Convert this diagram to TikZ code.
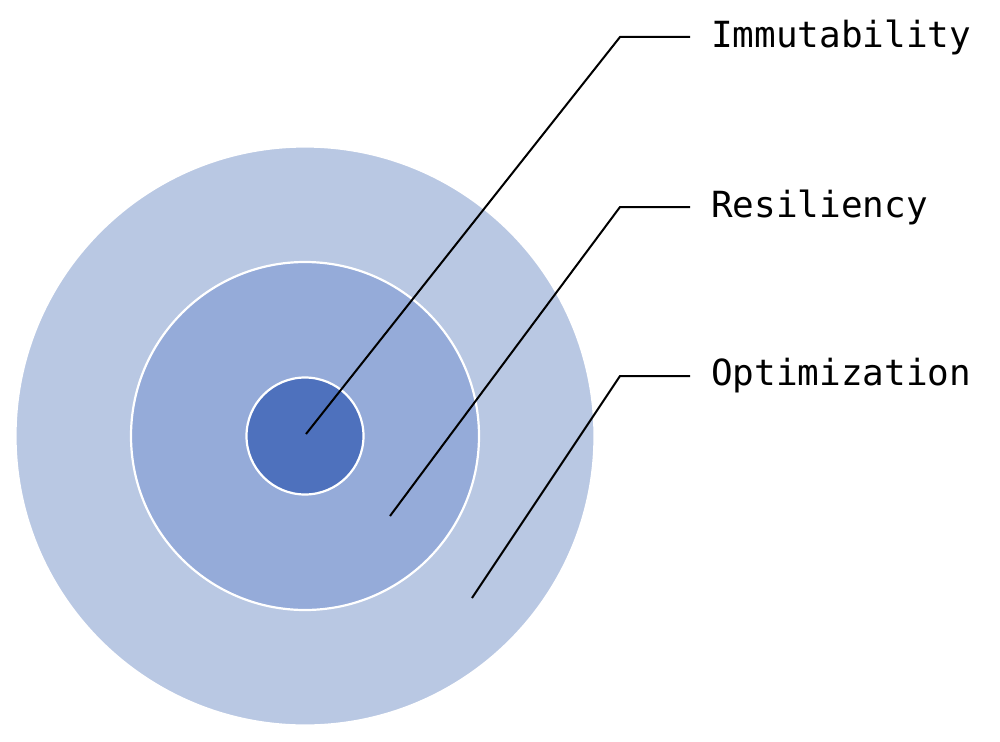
\documentclass[tikz,border=0pt]{standalone}
\usepackage{fontspec}
\setmonofont{DejaVu Sans Mono}
\definecolor{ring_outer}{RGB}{185, 200, 227}
\definecolor{ring_mid}{RGB}{149, 171, 217}
\definecolor{ring_core}{RGB}{78, 113, 189}
\tikzstyle{ring}=[circle,draw=white,line width=2.2pt,inner sep=0pt]
\tikzstyle{lab}=[anchor=west,inner xsep=21pt,font=\ttfamily\fontsize{36}{40}\selectfont]
\tikzstyle{lead}=[draw=black,line width=2pt]

\begin{document}
\begin{tikzpicture}[x=1pt,y=-1pt]
            \useasboundingbox (0,0) rectangle (1000,741);
            \node [style=ring,fill=ring_outer,minimum size=579pt] (outer) at (305, 436) {};
            \node [style=ring,fill=ring_mid,minimum size=348pt] (mid) at (305, 436) {};
            \node [style=ring,fill=ring_core,minimum size=117pt] (core) at (305, 436) {};
            \coordinate (p1) at (306, 434);
            \coordinate (p2) at (390, 516);
            \coordinate (p3) at (472, 598);
            \coordinate (k1) at (620, 37);
            \coordinate (k2) at (620, 207);
            \coordinate (k3) at (620, 376);
            \node [style=lab] (immut) at (690, 37) {Immutability};
            \node [style=lab] (resil) at (690, 207) {Resiliency};
            \node [style=lab] (optim) at (690, 376) {Optimization};
            \draw [style=lead] (p1) to (k1) to (immut.west);
            \draw [style=lead] (p2) to (k2) to (resil.west);
            \draw [style=lead] (p3) to (k3) to (optim.west);
    \end{tikzpicture}
\end{document}
